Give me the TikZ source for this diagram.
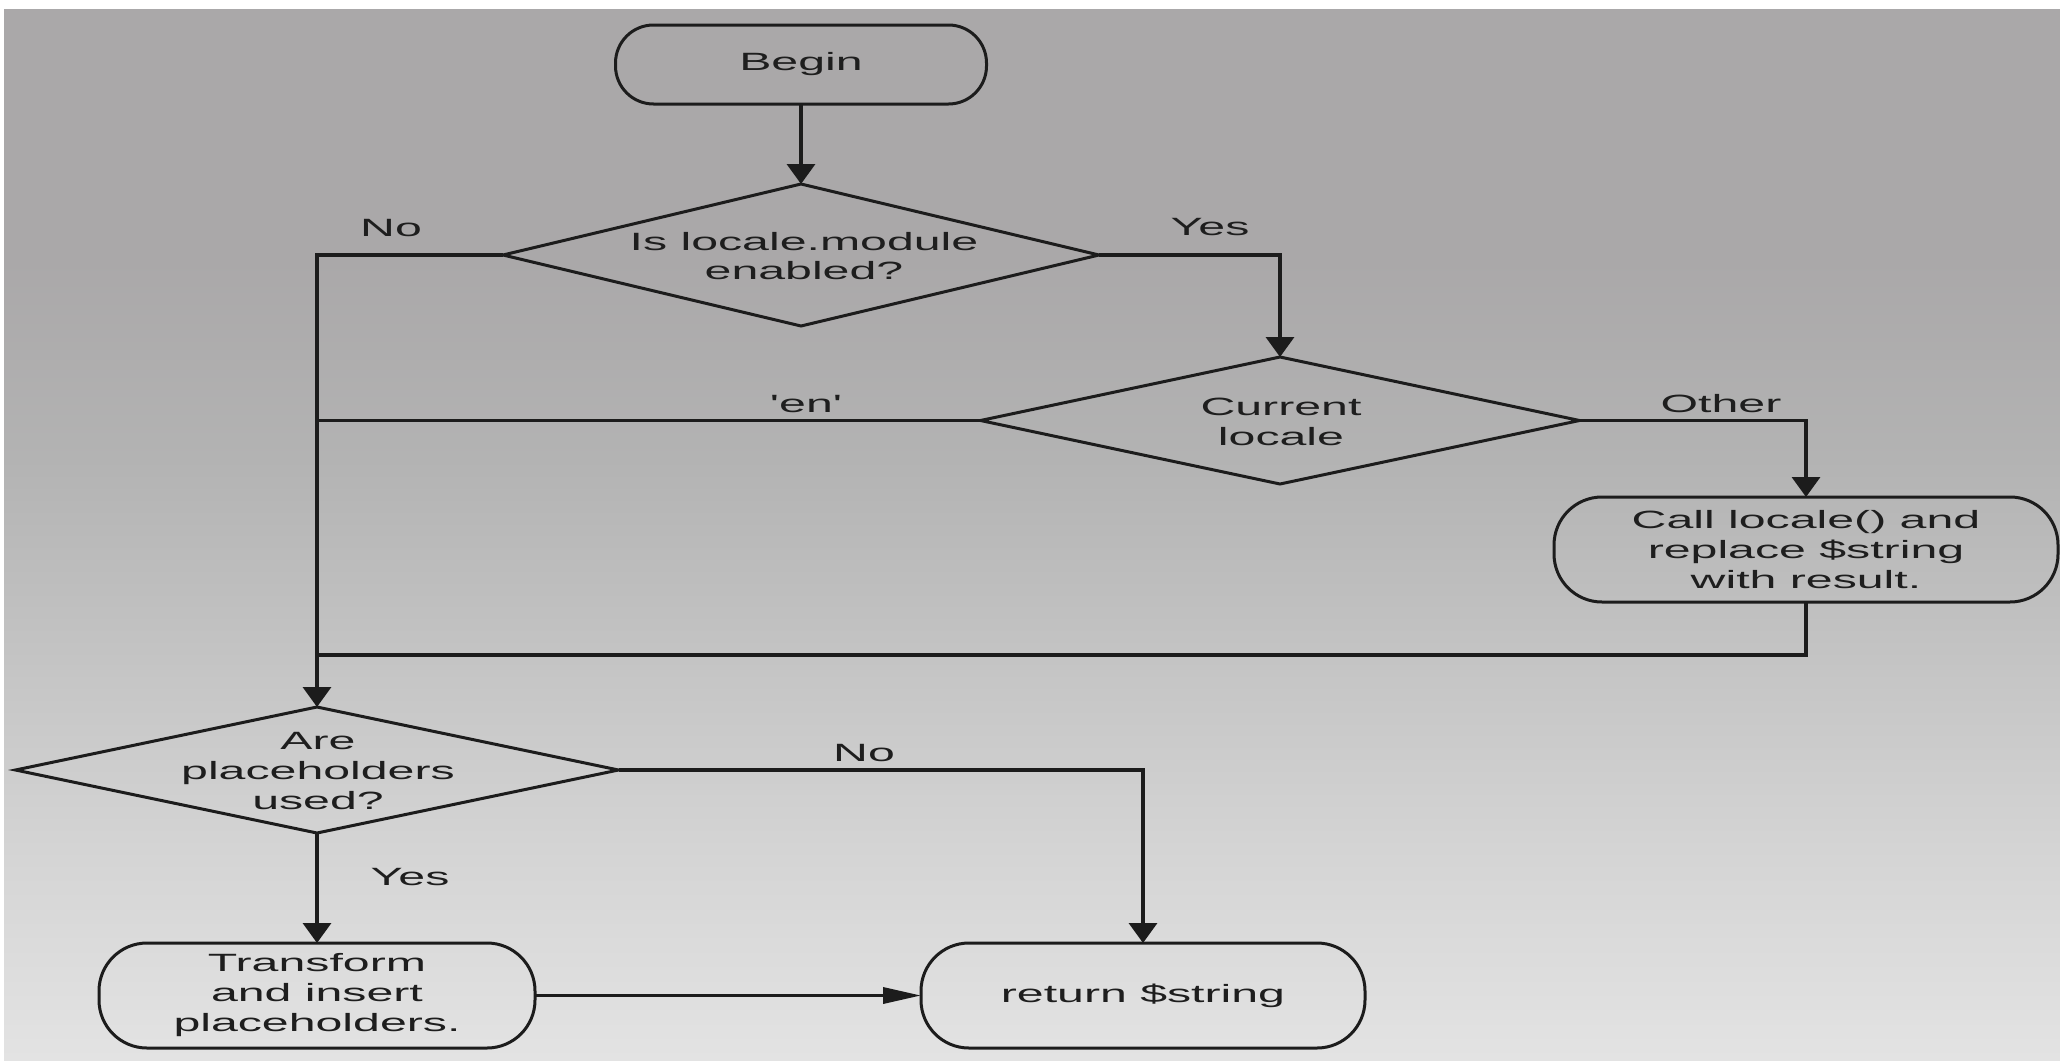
\documentclass[tikz,border=0pt]{standalone}
\usepackage{fontspec}
\setmainfont{Liberation Sans}[FakeStretch=1.93, Ligatures=TeXOff]
\usetikzlibrary{shapes.geometric, arrows.meta}
\definecolor{ln}{HTML}{1C1C1C}
\definecolor{txt}{HTML}{1E1E1E}
\definecolor{bgA}{HTML}{AAA8A9}
\definecolor{bgB}{HTML}{B3B3B3}
\definecolor{bgC}{HTML}{C4C4C4}
\definecolor{bgD}{HTML}{D5D5D5}
\definecolor{bgE}{HTML}{E3E3E3}
\begin{document}
\begin{tikzpicture}[x=1pt,y=-1pt,
  every node/.style={font=\fontsize{25pt}{30pt}\selectfont, text=txt, inner sep=0pt, outer sep=0pt},
  stadium/.style={draw=ln, line width=3pt, rectangle, align=center},
  decision/.style={draw=ln, line width=3pt, diamond},
  conn/.style={draw=ln, line width=3.5pt},
  varrow/.style={conn, -{Triangle[length=20pt,width=28pt]}},
  harrow/.style={conn, -{Triangle[length=38pt,width=16pt]}}]

% background
\useasboundingbox (0,0) rectangle (2060,1060);
\fill[white] (0,0) rectangle (2060,1060);
\fill[bgA] (4,9) rectangle (2060,260);
\shade[top color=bgA, bottom color=bgB] (4,259) rectangle (2060,460);
\shade[top color=bgB, bottom color=bgC] (4,459) rectangle (2060,660);
\shade[top color=bgC, bottom color=bgD] (4,659) rectangle (2060,860);
\shade[top color=bgD, bottom color=bgE] (4,859) rectangle (2060,1060);

% nodes
\node[stadium, rounded corners=38pt, minimum width=371pt, minimum height=79pt] (begin) at (801,64.5) {Begin};

\node[decision, minimum width=596pt, minimum height=142pt] (d1) at (801,255) {};
\node[font=\fontsize{25pt}{29pt}\selectfont, align=center] (d1t) at (804,256) {Is locale.module\\enabled?};

\node[decision, minimum width=599pt, minimum height=127pt] (d2) at (1280,420.5) {};
\node[align=center] (d2t) at (1281,422) {Current\\locale};

\node[stadium, rounded corners=48pt, minimum width=504pt, minimum height=105pt] (call) at (1806,549.5) {Call locale() and\\replace \$string\\with result.};

\node[decision, minimum width=603pt, minimum height=126pt] (d3) at (317,770) {};
\node[align=center] (d3t) at (318,771) {Are\\placeholders\\used?};

\node[stadium, rounded corners=48pt, minimum width=436pt, minimum height=105pt] (trans) at (317,995.5) {Transform\\and insert\\placeholders.};
\node[stadium, rounded corners=48pt, minimum width=444pt, minimum height=105pt] (ret) at (1143,995.5) {return \$string};

% junctions
\coordinate (j1) at (317,420.5);
\coordinate (j2) at (317,655);

% connectors
\draw[varrow] (begin) -- (d1);
\draw[varrow] (d1.west) -| (d3.north);
\draw[varrow] (d1.east) -| (d2.north);
\draw[conn] (d2.west) -- (j1);
\draw[varrow] (d2.east) -| (call.north);
\draw[conn] (call.south) |- (j2);
\draw[varrow] (d3.east) -| (ret.north);
\draw[varrow] (d3.south) -- (trans.north);
\draw[harrow] (trans.east) -- (ret.west);

% labels
\node (lno1) at (391,228) {No};
\node (lyes1) at (1210,227) {Yes};
\node (len) at (806,404) {'en'};
\node (lother) at (1721,404) {Other};
\node (lno2) at (864,753) {No};
\node (lyes2) at (410,877) {Yes};
\end{tikzpicture}
\end{document}
